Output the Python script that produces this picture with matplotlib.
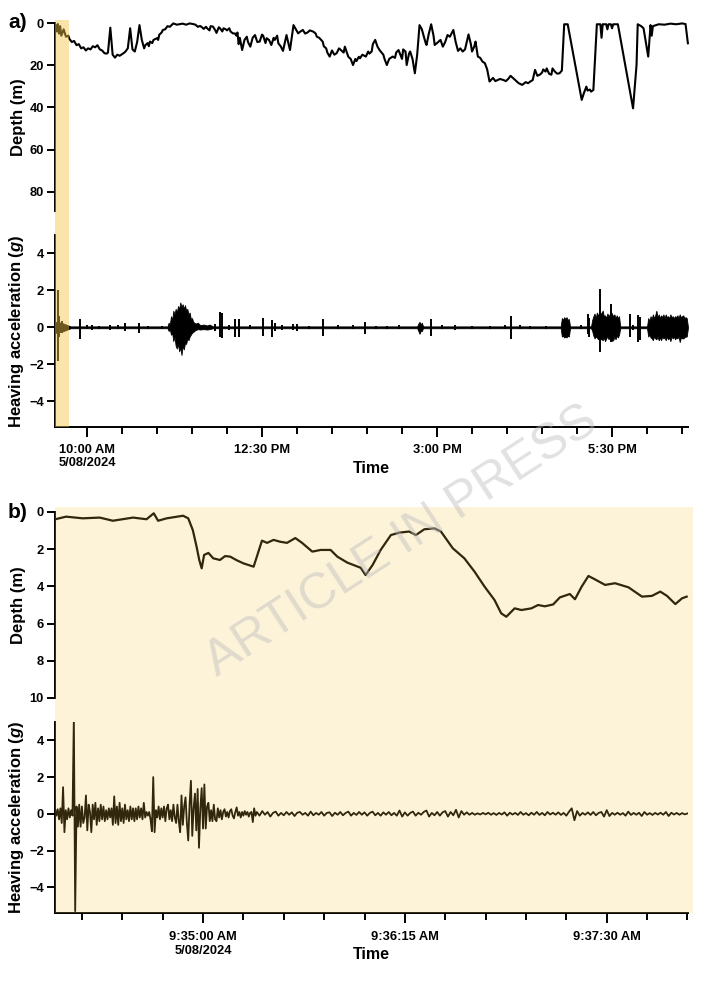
import numpy as np
import matplotlib
matplotlib.use("Agg")
import matplotlib.pyplot as plt
from matplotlib.ticker import FixedLocator, MultipleLocator

plt.rcParams['font.family'] = ['Liberation Sans', 'DejaVu Sans']
plt.rcParams['font.weight'] = 'bold'
plt.rcParams['mathtext.fontset'] = 'custom'
plt.rcParams['mathtext.it'] = 'Liberation Sans:bold:italic'
plt.rcParams['mathtext.rm'] = 'Liberation Sans:bold'

# ---------------- data: panel a (whole day) ----------------
a_range = ["09:32.6", "18:35.1"]
band_a = ["09:32.6", "09:44.6"]

depth_a_time = [
    "09:33", "09:34", "09:35", "09:36", "09:37", "09:38", "09:40", "09:42", "09:44", "09:45",
    "09:47", "09:49", "09:51", "09:53", "09:55", "09:57", "09:59", "10:01", "10:03", "10:05",
    "10:07", "10:09", "10:11", "10:13", "10:15", "10:17", "10:18", "10:20", "10:22", "10:24",
    "10:26", "10:28", "10:30", "10:32", "10:33", "10:35", "10:37", "10:39", "10:41", "10:43",
    "10:45", "10:47", "10:49", "10:50", "10:52", "10:53", "10:54", "10:56", "10:57", "11:00",
    "11:01", "11:02", "11:04", "11:05", "11:07", "11:09", "11:11", "11:14", "11:17", "11:20",
    "11:22", "11:25", "11:28", "11:31", "11:33", "11:35", "11:37", "11:39", "11:40", "11:42",
    "11:43", "11:45", "11:46", "11:48", "11:50", "11:51", "11:53", "11:54", "11:56", "11:57",
    "11:59", "12:00", "12:02", "12:03", "12:05", "12:07", "12:08", "12:09", "12:10", "12:11",
    "12:13", "12:15", "12:17", "12:18", "12:20", "12:22", "12:24", "12:26", "12:28", "12:30",
    "12:31", "12:33", "12:34", "12:36", "12:38", "12:40", "12:41", "12:43", "12:44", "12:46",
    "12:48", "12:51", "12:54", "12:57", "12:59", "13:01", "13:03", "13:05", "13:07", "13:09",
    "13:11", "13:14", "13:16", "13:17", "13:19", "13:22", "13:23", "13:25", "13:26", "13:28",
    "13:30", "13:32", "13:34", "13:36", "13:38", "13:40", "13:41", "13:44", "13:46", "13:48",
    "13:50", "13:51", "13:53", "13:54", "13:56", "13:59", "14:01", "14:02", "14:04", "14:05",
    "14:07", "14:09", "14:11", "14:14", "14:15", "14:17", "14:19", "14:22", "14:24", "14:25",
    "14:27", "14:30", "14:31", "14:33", "14:34", "14:36", "14:37", "14:39", "14:41", "14:43",
    "14:45", "14:47", "14:48", "14:50", "14:51", "14:53", "14:55", "14:57", "14:58", "15:00",
    "15:03", "15:05", "15:07", "15:09", "15:11", "15:14", "15:16", "15:18", "15:20", "15:22",
    "15:24", "15:27", "15:29", "15:30", "15:32", "15:33", "15:35", "15:37", "15:39", "15:41",
    "15:43", "15:45", "15:48", "15:50", "15:52", "15:54", "15:57", "15:59", "16:01", "16:03",
    "16:05", "16:08", "16:10", "16:13", "16:16", "16:18", "16:20", "16:22", "16:24", "16:26",
    "16:28", "16:30", "16:31", "16:33", "16:34", "16:36", "16:38", "16:39", "16:41", "16:43",
    "16:45", "16:47", "16:49", "16:52", "17:04", "17:06", "17:08", "17:09", "17:11", "17:12",
    "17:14", "17:17", "17:20", "17:21", "17:22", "17:25", "17:26", "17:27", "17:29", "17:30",
    "17:31", "17:35", "17:48", "17:51", "17:52", "17:55", "17:57", "18:01", "18:03", "18:04",
    "18:05", "18:10", "18:15", "18:20", "18:25", "18:30", "18:33", "18:35"]
depth_a = [
    1, 4, 0.5, 5, 1.5, 6, 3, 6.5, 6, 7.6,
    9, 8.5, 10.5, 10, 12, 11.5, 13, 12, 12.5, 11,
    11.5, 10.5, 12.5, 13, 14.3, 14.5, 14, 2.2, 15, 16.4,
    15, 15.5, 14.8, 14, 13.5, 12, 2.5, 12.5, 13.5, 9,
    1, 8, 12, 10.5, 9.5, 11, 8.8, 9.5, 8, 7.2,
    8, 5.5, 4.5, 3.3, 3, 1.5, 1.8, 0.2, 0.8, 0.5,
    0.3, 0.8, 0.2, 0.5, 0.8, 1.8, 1.4, 2.2, 2.8, 1.8,
    2.5, 3.5, 1.5, 1.7, 3.5, 4.7, 2, 2.5, 4, 2.5,
    3, 3.5, 2.5, 4, 4.9, 5, 6, 4.5, 10, 7,
    12.8, 8, 6.5, 9, 11.2, 7, 5.7, 9, 8.8, 5.5,
    6, 9.5, 7.2, 8, 10.4, 7, 8, 6, 9.6, 11,
    13.2, 5.7, 12.8, 1, 3, 4.9, 4, 3.3, 5, 4.5,
    3.5, 4.1, 5, 6.5, 7, 8.8, 11, 12, 14, 15.9,
    13, 15, 14.3, 12, 13, 14, 11.2, 16, 17, 19.9,
    17, 18, 16, 16.7, 15, 15.9, 13.5, 14.5, 13.5, 10,
    8, 11.2, 13, 15, 17, 19.9, 17, 15.9, 16.5, 14,
    12.8, 17, 12.5, 13.5, 19.9, 14.5, 13.5, 17, 23.8, 15,
    1, 3, 5, 9, 10.4, 5, 0.6, 6, 10.4, 9.5,
    8, 11.2, 9, 5.7, 6.5, 3.3, 9, 13.2, 12, 13.5,
    12.5, 5.4, 10, 13.5, 11, 8.8, 15.9, 16.5, 18.3, 19,
    22, 27.7, 26, 27.5, 27, 26.5, 27, 27.5, 26.5, 25,
    26, 27.5, 28.5, 29.3, 28, 28.5, 27.7, 27, 22.2, 25,
    24.5, 23.5, 22, 23, 21.5, 24, 24.5, 21.5, 23, 24,
    23.8, 22.5, 0.6, 0.6, 36.4, 33, 30.1, 32, 31.5, 32.5,
    31.7, 0.6, 0.6, 7, 0.6, 0.6, 3, 0.6, 0.6, 2.5,
    0.6, 0.6, 40.4, 19.9, 0.6, 1.5, 2.5, 15.9, 1, 6,
    1.5, 0.6, 0.8, 0.3, 0.6, 0.2, 0.5, 9.6]

# heave envelope (upper / lower) for panel a
heave_a_env_time = [
    "09:33", "09:38", "09:42", "09:46",
    "11:09", "11:10", "11:11", "11:12", "11:13", "11:14", "11:15", "11:16", "11:17", "11:18",
    "11:19", "11:20", "11:21", "11:22", "11:23", "11:24", "11:25", "11:26", "11:27", "11:28",
    "11:29", "11:30", "11:31", "11:33", "11:35", "11:37", "11:40", "11:43", "11:45", "11:48",
    "14:43", "14:44", "14:45", "14:46", "14:47", "14:48",
    "16:46", "16:47", "16:48", "16:49", "16:50", "16:51", "16:52", "16:53", "16:54",
    "17:12", "17:13", "17:14", "17:15", "17:16", "17:17", "17:18", "17:19", "17:20", "17:22",
    "17:23", "17:24", "17:25", "17:26", "17:27", "17:28", "17:29", "17:31", "17:32", "17:33",
    "17:34", "17:35", "17:36", "17:37",
    "18:00", "18:01", "18:02", "18:03", "18:04", "18:05", "18:06", "18:07", "18:08", "18:09",
    "18:10", "18:11", "18:12", "18:13", "18:14", "18:15", "18:16", "18:17", "18:18", "18:19",
    "18:20", "18:21", "18:22", "18:23", "18:24", "18:25", "18:26", "18:27", "18:28", "18:29",
    "18:30", "18:31", "18:32", "18:33", "18:34", "18:35"]
heave_a_hi = [
    0.3, 0.25, 0.15, 0.05,
    0.05, 0.25, 0.15, 0.6, 0.4, 0.9, 0.7, 1.0, 0.8, 1.15,
    1.0, 1.35, 1.1, 1.25, 1.0, 1.2, 0.9, 1.0, 0.7, 0.8,
    0.45, 0.5, 0.3, 0.2, 0.25, 0.12, 0.15, 0.1, 0.15, 0.05,
    0.05, 0.2, 0.3, 0.15, 0.25, 0.05,
    0.05, 0.5, 0.4, 0.55, 0.45, 0.55, 0.4, 0.45, 0.05,
    0.05, 0.4, 0.6, 0.75, 0.5, 0.8, 0.6, 0.85, 0.7, 0.9,
    0.6, 0.65, 0.5, 0.75, 0.6, 0.7, 0.85, 0.6, 0.7, 0.5,
    0.65, 0.5, 0.6, 0.05,
    0.05, 0.5, 0.35, 0.6, 0.45, 0.7, 0.5, 0.65, 0.9, 0.55,
    0.7, 0.5, 0.65, 0.55, 0.7, 0.5, 0.7, 0.55, 0.6, 0.5,
    0.7, 0.55, 0.6, 0.5, 0.6, 0.55, 0.65, 0.5, 0.7, 0.55,
    0.6, 0.65, 0.5, 0.55, 0.5, 0.05]
heave_a_lo = [
    -0.3, -0.25, -0.15, -0.05,
    -0.05, -0.2, -0.1, -0.4, -0.3, -0.75, -0.5, -1.0, -1.15, -0.9,
    -1.3, -1.1, -1.5, -1.0, -1.2, -0.85, -0.9, -0.6, -0.7, -0.5,
    -0.4, -0.3, -0.25, -0.15, -0.1, -0.12, -0.1, -0.12, -0.1, -0.05,
    -0.05, -0.2, -0.35, -0.2, -0.2, -0.05,
    -0.05, -0.5, -0.45, -0.55, -0.5, -0.55, -0.45, -0.5, -0.05,
    -0.05, -0.2, -0.45, -0.6, -0.5, -0.55, -0.65, -0.5, -0.6, -0.7,
    -0.55, -0.75, -0.6, -0.5, -0.65, -0.5, -0.75, -0.7, -0.5, -0.65,
    -0.45, -0.55, -0.4, -0.05,
    -0.05, -0.5, -0.4, -0.55, -0.6, -0.7, -0.5, -0.6, -0.65, -0.5,
    -0.7, -0.55, -0.7, -0.5, -0.6, -0.55, -0.7, -0.5, -0.65, -0.55,
    -0.75, -0.5, -0.6, -0.5, -0.65, -0.55, -0.6, -0.5, -0.8, -0.55,
    -0.6, -0.6, -0.55, -0.5, -0.5, -0.05]

# isolated spikes in panel a heave
spike_a_time = [
    "09:33", "09:35", "09:36", "09:39", "09:54", "10:00", "10:04", "10:10", "10:20", "10:27",
    "10:33", "10:45", "10:52", "11:04", "11:50", "11:54", "11:56", "12:02", "12:07", "12:10",
    "12:20", "12:31", "12:39", "12:41", "12:47", "12:57", "13:00", "13:10", "13:22", "13:35",
    "13:48", "13:58", "14:08", "14:17", "14:27", "14:55", "15:04", "15:15", "15:30", "15:45",
    "15:58", "16:03", "16:11", "16:20", "16:33", "17:03", "17:09", "17:10", "17:20", "17:29",
    "17:45", "17:48", "17:52", "17:54"]
spike_a_hi = [
    5.0, 2.0, 0.6, 0.35, 0.45, 0.12, 0.1, 0.08, 0.15, 0.1,
    0.22, 0.25, 0.08, 0.08, 0.2, 0.85, 0.8, 0.12, 0.45, 0.45,
    0.1, 0.5, 0.4, 0.25, 0.12, 0.2, 0.2, 0.08, 0.45, 0.1,
    0.1, 0.3, 0.08, 0.08, 0.1, 0.45, 0.1, 0.15, 0.08, 0.08,
    0.1, 0.6, 0.1, 0.08, 0.08, 0.1, 0.7, 0.5, 2.1, 1.25,
    0.7, 0.15, 0.65, 0.55]
spike_a_lo = [
    -5.3, -1.8, -0.5, -0.3, -0.62, -0.1, -0.12, -0.08, -0.15, -0.1,
    -0.2, -0.3, -0.08, -0.08, -0.2, -0.55, -0.6, -0.12, -0.5, -0.5,
    -0.1, -0.45, -0.55, -0.2, -0.12, -0.15, -0.2, -0.08, -0.45, -0.08,
    -0.1, -0.35, -0.08, -0.08, -0.1, -0.45, -0.1, -0.15, -0.08, -0.08,
    -0.1, -0.65, -0.08, -0.08, -0.08, -0.1, -0.35, -0.5, -1.35, -0.8,
    -0.5, -0.15, -0.8, -0.7]

a_major_ticks = ["10:00", "12:30", "15:00", "17:30"]
a_major_labels = ["10:00 AM\n5/08/2024", "12:30 PM", "3:00 PM", "5:30 PM"]

# ---------------- data: panel b (seconds after 9:34:00) ----------------
b_range = [5.0, 240.2]
depth_b_t = [5.1, 9.1, 15.3, 21.6, 26.5, 34, 39, 41.7, 43.3, 46.5,
             52.6, 54.5, 56.2, 57.6, 58.6, 59.5, 60.4, 62, 63.8, 66.3,
             68.2, 70.1, 72.6, 75, 78.8, 80, 81.9, 83.8, 86.2, 88.7,
             91.2, 94.3, 96.8, 100.6, 103.7, 107.4, 109.9, 113.6, 118.6, 120.4,
             123, 126, 129.8, 132.9, 136.6, 139.1, 142.2, 146, 148.4, 152.8,
             157.1, 160.9, 164.6, 168.3, 170.8, 172.7, 175.8, 178.3, 182, 184.5,
             187, 190.1, 192.6, 196.3, 198.2, 200.7, 203.2, 205.6, 209.4, 213.1,
             218.1, 223.1, 226.8, 229.9, 232.4, 235.5, 238, 239.7]
depth_b = [0.39, 0.25, 0.34, 0.3, 0.47, 0.3, 0.39, 0.07, 0.47, 0.34,
           0.2, 0.34, 0.97, 1.86, 2.58, 3.03, 2.31, 2.2, 2.49, 2.58,
           2.37, 2.4, 2.6, 2.76, 2.94, 2.4, 1.54, 1.66, 1.5, 1.6,
           1.66, 1.4, 1.66, 2.13, 2.04, 2.04, 2.4, 2.72, 3.0, 3.39,
           2.85, 2.04, 1.24, 1.11, 1.05, 1.24, 0.93, 0.88, 1.05, 1.95,
           2.49, 3.21, 4.01, 4.73, 5.45, 5.63, 5.18, 5.27, 5.18, 5.0,
           5.07, 4.97, 4.59, 4.41, 4.69, 4.01, 3.44, 3.62, 3.92, 3.83,
           4.05, 4.55, 4.51, 4.28, 4.51, 4.95, 4.64, 4.55]

# heave b, part 1: sampled every 0.5 s from 5.0 s
heave_b_start1, heave_b_step1 = 5.0, 0.5
heave_b_v1 = [0.3, -0.1, 0.25, -0.3, 0.3, -0.5, 1.45, -1.0, 0.2, -0.3,
              0.3, -0.2, 0.2, -0.1, 5.3, -5.3, 0.4, -0.7, 0.5, -0.7,
              0.4, -0.5, -0.2, 1.0, -0.9, 0.5, 0.1, -1.0, 0.5, -0.3,
              0.6, -0.6, 0.3, -0.4, 0.5, -0.3, 0.4, -0.4, 0.2, -0.3,
              0.3, -0.2, 0.3, -0.6, 0.95, -0.5, 0.4, -0.6, 0.6, -0.4,
              0.3, -0.5, 0.5, -0.3, 0.2, -0.4, 0.4, -0.3, 0.3, -0.4,
              0.3, -0.3, 0.4, -0.2, 0.3, -0.3, 0.6, -0.2, 0.1, -0.1,
              0.1, -0.3, -0.95, 2.0, -1.0, 0.2, -0.2, 0.4, -0.3, 0.3,
              -0.2, 0.4, -0.4, 0.3, 0.5, -0.3, 0.2, -0.4, 0.5, -0.2,
              -0.5, 0.5, -0.4, -1.0, 1.0, -0.6, 0.4, 0.9, -0.5, -1.45,
              0.5, 1.8, -1.2, 0.3, 1.1, -0.9, 1.35, -1.85, 0.3, 1.4,
              -0.8, 1.6, -0.8, 0.4, 0.6, -0.4, 0.2, -0.4, 0.5, -0.3,
              -0.4, 0.3, -0.2, 0.2, -0.3, 0.1, 0.25, -0.15, 0.1, -0.2,
              0.15, 0.25, -0.1, -0.25, 0.1, 0.35, -0.1, 0.1, -0.2, 0.1,
              -0.1, 0.15, -0.05, 0.1, -0.15, 0.05, 0.1, -0.45, 0.3, -0.1,
              0.1]
# heave b, part 2: sampled every 1 s from 81 s
heave_b_start2, heave_b_step2 = 81.0, 1.0
heave_b_v2 = [-0.1, 0.15, -0.05, 0.1, -0.15, 0.05, 0.12, -0.1, 0.05, -0.08,
              0.1, -0.05, 0.08, -0.12, 0.06, 0.1, -0.05, 0.05, -0.1, 0.12,
              -0.08, 0.05, -0.05, 0.1, -0.1, 0.05, 0.08, -0.12, 0.06, -0.05,
              0.1, -0.08, 0.05, 0.12, -0.1, 0.05, -0.06, 0.1, -0.05, 0.08,
              -0.1, 0.05, 0.12, -0.08, 0.05, -0.1, 0.08, -0.05, 0.1, -0.08,
              0.05, -0.1, 0.18, -0.15, 0.08, -0.1, 0.05, 0.12, -0.1, 0.06,
              -0.05, 0.1, 0.18, -0.15, 0.05, -0.08, 0.1, -0.1, 0.08, 0.15,
              -0.15, 0.1, -0.08, 0.22, -0.2, 0.15, -0.05, 0.08, -0.05, 0.05,
              -0.05, 0.03, -0.04, 0.05, -0.03, 0.06, -0.05, 0.04, -0.06, 0.05,
              -0.04, 0.08, -0.1, 0.06, -0.04, 0.05, -0.06, 0.1, -0.05, 0.04,
              -0.08, 0.06, -0.05, 0.1, -0.06, 0.05, -0.08, 0.1, -0.04, 0.06,
              -0.05, 0.08, -0.06, 0.05, -0.1, 0.12, 0.3, -0.35, 0.15, -0.1,
              0.05, -0.05, 0.08, -0.06, 0.1, -0.08, 0.05, 0.1, -0.15, 0.2,
              -0.12, 0.05, -0.05, 0.06, -0.05, 0.04, -0.1, 0.12, -0.06, 0.05,
              -0.05, 0.06, -0.12, 0.1, -0.05, 0.04, -0.06, 0.05, -0.04, 0.06,
              -0.05, 0.1, -0.12, 0.06, -0.04, 0.05, -0.05, 0.04, -0.03, 0.02]

b_major_ticks = [60, 135, 210]
b_major_labels = ["9:35:00 AM\n5/08/2024", "9:36:15 AM", "9:37:30 AM"]

depth_a_ticks = [0, 20, 40, 60, 80]
depth_b_ticks = [0, 2, 4, 6, 8, 10]
heave_ticks = [-4, -2, 0, 2, 4]

# ---------------- helpers ----------------
W, H = 716, 988
fig = plt.figure(figsize=(W / 100, H / 100), dpi=100)


def rect(x0, y0, x1, y1):
    return [x0 / W, 1 - y1 / H, (x1 - x0) / W, (y1 - y0) / H]


def hm(s):
    h, m = s.split(':')
    return int(h) * 60 + float(m)


def to_min(lst):
    return np.array([hm(s) for s in lst])


TICKFS = 9.3
LABFS = 12
SPW = 1.4


def style(ax, bottom=True):
    ax.patch.set_alpha(0)
    for s in ['top', 'right']:
        ax.spines[s].set_visible(False)
    ax.spines['left'].set_linewidth(SPW)
    if bottom:
        ax.spines['bottom'].set_linewidth(SPW)
    else:
        ax.spines['bottom'].set_visible(False)
        ax.set_xticks([])
    ax.tick_params(axis='y', direction='out', length=6, width=SPW, labelsize=TICKFS, pad=2)
    ax.tick_params(axis='x', which='major', direction='out', length=7, width=SPW, labelsize=TICKFS, pad=5)
    ax.tick_params(axis='x', which='minor', direction='out', length=5, width=SPW)
    for lab in ax.get_yticklabels() + ax.get_xticklabels():
        lab.set_fontweight('bold')


xa = to_min(a_range)

# ---- panel a depth
ax_da = fig.add_axes(rect(55, 23, 688, 211))
ax_da.plot(to_min(depth_a_time), depth_a, color='black', lw=1.5, clip_on=False)
ax_da.set_xlim(*xa)
ax_da.set_ylim(89, 0)
ax_da.set_yticks(depth_a_ticks)
style(ax_da, bottom=False)
ax_da.set_ylabel('Depth (m)', fontsize=LABFS, fontweight='bold')
ax_da.yaxis.set_label_coords(-0.046, 0.5)

# ---- panel a heave
ax_ha = fig.add_axes(rect(55, 235, 688, 427))
ax_ha.fill_between(to_min(heave_a_env_time), heave_a_lo, heave_a_hi, color='black', lw=0.6)
ax_ha.vlines(to_min(spike_a_time), spike_a_lo, spike_a_hi, color='black', lw=1.4)
ax_ha.set_xlim(*xa)
ax_ha.set_ylim(-5.4, 5.0)
ax_ha.set_yticks(heave_ticks)
ax_ha.xaxis.set_major_locator(FixedLocator(to_min(a_major_ticks)))
ax_ha.set_xticklabels(a_major_labels)
ax_ha.xaxis.set_minor_locator(MultipleLocator(30))
style(ax_ha)
ax_ha.set_ylabel(r'Heaving acceleration ($\mathit{g}$)', fontsize=LABFS, fontweight='bold')
ax_ha.yaxis.set_label_coords(-0.046, 0.5)
ax_ha.set_xlabel('Time', fontsize=11.5, fontweight='bold')
ax_ha.xaxis.set_label_coords(0.5, -0.175)

# ---- panel a highlight band (overlay)
ov_a = fig.add_axes(rect(55, 20, 688, 427), zorder=10)
ov_a.set_xlim(*xa)
ov_a.axvspan(*to_min(band_a), color='#F5C542', alpha=0.45, lw=0)
ov_a.patch.set_alpha(0)
ov_a.set_xticks([]); ov_a.set_yticks([])
for s in ov_a.spines.values():
    s.set_visible(False)

# ---- panel b depth
ax_db = fig.add_axes(rect(55, 512, 688, 698))
ax_db.plot(depth_b_t, depth_b, color='black', lw=1.6, clip_on=False)
ax_db.set_xlim(*b_range)
ax_db.set_ylim(10, 0)
ax_db.set_yticks(depth_b_ticks)
style(ax_db, bottom=False)
ax_db.set_ylabel('Depth (m)', fontsize=LABFS, fontweight='bold')
ax_db.yaxis.set_label_coords(-0.046, 0.5)

# ---- panel b heave
ax_hb = fig.add_axes(rect(55, 722, 688, 913))
tb1 = heave_b_start1 + heave_b_step1 * np.arange(len(heave_b_v1))
tb2 = heave_b_start2 + heave_b_step2 * np.arange(len(heave_b_v2))
ax_hb.plot(np.concatenate([tb1, tb2]), np.concatenate([heave_b_v1, heave_b_v2]), color='black', lw=1.3)
ax_hb.set_xlim(*b_range)
ax_hb.set_ylim(-5.4, 5.0)
ax_hb.set_yticks(heave_ticks)
ax_hb.xaxis.set_major_locator(FixedLocator(b_major_ticks))
ax_hb.set_xticklabels(b_major_labels)
ax_hb.xaxis.set_minor_locator(MultipleLocator(15))
style(ax_hb)
ax_hb.tick_params(axis='x', which='major', pad=6)
ax_hb.set_ylabel(r'Heaving acceleration ($\mathit{g}$)', fontsize=LABFS, fontweight='bold')
ax_hb.yaxis.set_label_coords(-0.046, 0.5)
ax_hb.set_xlabel('Time', fontsize=11.5, fontweight='bold')
ax_hb.xaxis.set_label_coords(0.5, -0.18)

# ---- panel b tinted background (overlay)
ov_b = fig.add_axes(rect(55, 507, 693, 913), zorder=10)
ov_b.patch.set_facecolor('#F5C542')
ov_b.patch.set_alpha(0.2)
ov_b.set_xticks([]); ov_b.set_yticks([])
for s in ov_b.spines.values():
    s.set_visible(False)

# ---- panel letters and watermark
fig.text(18 / W, 1 - 23 / H, 'a)', fontsize=15, fontweight='bold', ha='center', va='center')
fig.text(18 / W, 1 - 512 / H, 'b)', fontsize=15, fontweight='bold', ha='center', va='center')
wm = fig.text(402 / W, 1 - 542 / H, 'ARTICLE IN PRESS', fontsize=36, fontweight='normal',
              color='#bdbdbd', alpha=0.45, rotation=33, ha='center', va='center', rotation_mode='anchor')
wm.set_zorder(20)

fig.savefig('out.png', dpi=100)
